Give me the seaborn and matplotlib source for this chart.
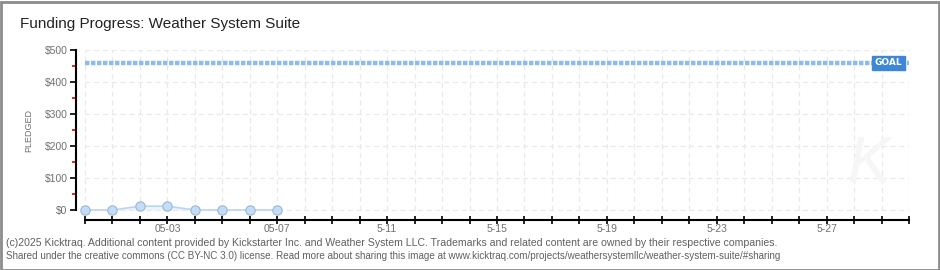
import matplotlib
matplotlib.use("Agg")
import matplotlib.pyplot as plt
import seaborn as sns
import pandas as pd
import numpy as np
from matplotlib.patches import Rectangle

# ---- data ----
dates = ["2025-04-30", "2025-05-01", "2025-05-02", "2025-05-03",
         "2025-05-04", "2025-05-05", "2025-05-06", "2025-05-07"]
pledged = [0, 0, 12, 12, 0, 0, 0, 0]
goal = 460
start_date = "2025-04-30"
end_date = "2025-05-30"
tick_dates = ["2025-05-03", "2025-05-07", "2025-05-11", "2025-05-15",
              "2025-05-19", "2025-05-23", "2025-05-27"]
tick_labels = ["05-03", "05-07", "5-11", "5-15", "5-19", "5-23", "5-27"]
y_ticks = [0, 100, 200, 300, 400, 500]
y_labels = ["$0", "$100", "$200", "$300", "$400", "$500"]

title = "Funding Progress: Weather System Suite"
footer1 = ("(c)2025 Kicktraq. Additional content provided by Kickstarter Inc. and Weather System LLC. "
           "Trademarks and related content are owned by their respective companies.")
footer2 = ("Shared under the creative commons (CC BY-NC 3.0) license. Read more about sharing this image at "
           "www.kicktraq.com/projects/weathersystemllc/weather-system-suite/#sharing")

sns.set_theme(style="white")
plt.rcParams["font.family"] = ["Liberation Sans", "DejaVu Sans"]

t0 = pd.Timestamp(start_date)
day = lambda d: (pd.Timestamp(d) - t0).days
df = pd.DataFrame({"day": [day(d) for d in dates], "pledged": pledged})
ndays = day(end_date)

W, H = 940, 270
fig = plt.figure(figsize=(W / 100, H / 100), dpi=100)
fig.patch.set_facecolor("white")
fig.patches.append(Rectangle((0.5 / W, 0.5 / H), 1 - 2 / W, 1 - 2 / H, transform=fig.transFigure,
                             fill=False, edgecolor="#8c8c8c", linewidth=2))

# axes: y-spine at x=76, x-axis at y=220, top at y=50, right at x=909
ax_left, ax_right, ax_top, ax_bottom = 76, 909, 50, 220
ax = fig.add_axes([ax_left / W, 1 - ax_bottom / H, (ax_right - ax_left) / W, (ax_bottom - ax_top) / H])
ax.set_facecolor("white")
px_per_day = (ax_right - 85) / ndays
ax.set_xlim(-(85 - ax_left) / px_per_day, ndays)
px_per_val = (210 - 50) / 500
ax.set_ylim(-(ax_bottom - 210) / px_per_val, 500)

# grid
grid_kw = dict(color="#e9e9e9", lw=0.9, ls=(0, (4, 3)), zorder=0)
ax.hlines(y_ticks, 0, ndays, **grid_kw)
ax.vlines(np.arange(0, ndays + 1), 0, 500, **grid_kw)

# goal line
ax.plot([0, ndays], [goal, goal], color="#8dbbea", lw=3.2, ls=(0, (1.0, 0.35)), zorder=2,
        solid_capstyle="butt", dash_capstyle="butt")
ax.text(29.25, goal, "GOAL", color="white", fontsize=6.5, fontweight="bold", ha="center", va="center",
        family="DejaVu Sans", zorder=5,
        bbox=dict(boxstyle="square,pad=0.3", facecolor="#3d86d8", edgecolor="#3d86d8"))

# pledged series
ax.fill_between(df["day"], df["pledged"], 0, color="#e3eefa", alpha=0.7, zorder=1, lw=0)
sns.lineplot(data=df, x="day", y="pledged", ax=ax, color="#b9d5f2", lw=1.2, zorder=3)
sns.scatterplot(data=df, x="day", y="pledged", ax=ax, s=45, color="#c5dcf7",
                edgecolor="#98b6d6", linewidth=0.8, zorder=4)

# spines
for s in ["top", "right"]:
    ax.spines[s].set_visible(False)
ax.spines["left"].set_bounds(0, 500)
ax.spines["bottom"].set_bounds(0, ndays)
for s in ["left", "bottom"]:
    ax.spines[s].set_color("black")
    ax.spines[s].set_linewidth(1.5)

ax.set_yticks(y_ticks, y_labels)
ax.set_yticks([50, 150, 250, 350, 450], minor=True)
ax.tick_params(axis="y", which="major", direction="out", length=4, width=1.2, color="black",
               labelsize=7.5, labelcolor="#707070", pad=2, left=True)
ax.tick_params(axis="y", which="minor", direction="out", length=3, width=1.2, color="#e00000", left=True)

ax.set_xticks(np.arange(0, ndays + 1), minor=True)
ax.set_xticks([day(d) for d in tick_dates], tick_labels)
ax.tick_params(axis="x", which="both", direction="inout", length=6, width=1.2, color="black",
               labelsize=7.5, labelcolor="#707070", pad=0, bottom=True)

ax.set_xlabel("")
ax.set_ylabel("PLEDGED", fontsize=6.5, color="#707070", labelpad=10)
ax.yaxis.set_label_coords(-(ax_left - 33) / (ax_right - ax_left), (ax_bottom - 130) / (ax_bottom - ax_top))

# watermark
fig.text(868 / W, 1 - 165 / H, "K", fontsize=46, fontstyle="italic", color="#f6f6f6",
         ha="center", va="center", zorder=0)

fig.text(20 / W, 1 - 24 / H, title, fontsize=11, color="#222222", ha="left", va="center")
fig.text(6 / W, 1 - 243 / H, footer1, fontsize=7.55, color="#606060", ha="left", va="center")
fig.text(6 / W, 1 - 256 / H, footer2, fontsize=7.1, color="#606060", ha="left", va="center")

fig.savefig("out.png", dpi=100)
